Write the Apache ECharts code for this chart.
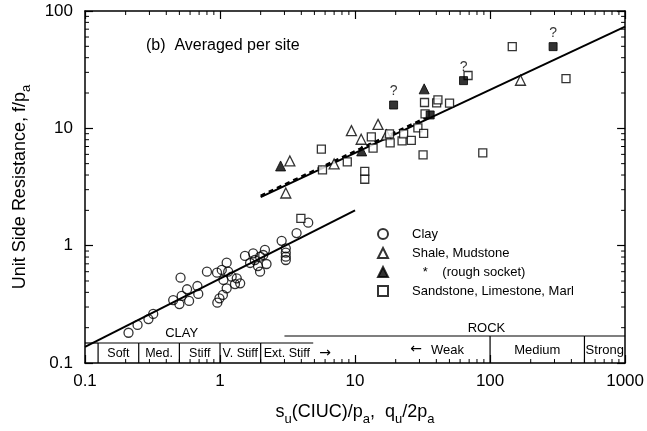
<!DOCTYPE html>
<html><head><meta charset="utf-8">
<script src="https://cdn.jsdelivr.net/npm/echarts@6/dist/echarts.min.js"></script>
<style>html,body{margin:0;padding:0;background:#fff}#c{width:647px;height:431px}</style>
</head><body><div id="c"></div>
<script>
const FONT = '"Liberation Sans", Arial, sans-serif';
const ARROWFONT = '"DejaVu Sans", sans-serif';

// ---- data ----
const xTickLabels = {0.1:'0.1', 1:'1', 10:'10', 100:'100', 1000:'1000'};
const yTickLabels = {0.1:'0.1', 1:'1', 10:'10', 100:'100'};

const clayX = [0.21,0.245,0.295,0.32,0.45,0.50,0.52,0.57,0.59,0.68,0.69,0.51,0.80,0.95,0.955,0.99,1.05,1.03,1.12,1.15,1.06,1.12,1.22,1.29,1.41,1.33,1.53,1.76,1.81,1.98,2.09,2.15,2.21,1.98,2.86,3.07,3.07,3.07,3.07,3.69,4.5,1.67,1.91];
const clayY = [0.181,0.211,0.237,0.262,0.344,0.318,0.373,0.425,0.338,0.453,0.388,0.534,0.60,0.589,0.327,0.356,0.38,0.621,0.716,0.60,0.51,0.433,0.544,0.471,0.478,0.527,0.817,0.861,0.755,0.806,0.833,0.919,0.698,0.60,1.10,0.95,0.871,0.806,0.755,1.28,1.57,0.712,0.671];

const shaleX = [3.29,3.07,7.0,9.4,11.1,14.8,17.1,168];
const shaleY = [5.27,2.81,4.97,9.56,8.07,10.8,8.79,25.7];

const roughX = [2.81,11.2,32.5];
const roughY = [4.78,6.42,21.7];

const sandX = [3.97,5.63,5.74,8.76,13.2,13.6,11.8,11.8,18.2,18.0,22.3,22.9,26.1,29.2,32.2,31.9,32.7,33.0,40.2,41.1,50.1,68.7,88.3,146,365];
const sandY = [1.71,6.64,4.42,5.17,8.45,6.77,4.29,3.68,7.51,8.96,7.81,8.96,7.89,10.1,9.05,5.93,16.6,13.3,16.5,17.5,16.4,28.2,6.17,49.7,26.5];

const queryX = [19.3,63.6,293];
const queryY = [15.8,25.5,49.7];
const filledSqX = [36.0];
const filledSqY = [13.0];

const clayFitX = [0.1,10],  clayFitY = [0.137,2.0];
const rockFitX = [2,1000],  rockFitY = [2.59,73.6];
const rockDashX = [2,35],   rockDashY = [2.66,12.6];

const clayZoneFrom = [0.1,0.125,0.25,0.5,1,2];
const clayZoneTo   = [0.125,0.25,0.5,1,2,4.9];
const clayZoneName = ['','Soft','Med.','Stiff','V. Stiff','Ext. Stiff'];
const rockZoneFrom = [3,100,500];
const rockZoneTo   = [100,500,1000];
const rockZoneName = ['Weak','Medium','Strong'];

const legendText = {Clay:'Clay', Shale:'Shale, Mudstone', Rough:'   *    (rough socket)', Sand:'Sandstone, Limestone, Marl'};

// ---- helpers ----
const zip = (a,b) => a.map((v,i)=>[v,b[i]]);
const minorVals = (lo, hi) => { const r=[]; for(let e=lo;e<hi;e++) for(let m=2;m<=9;m++) r.push(+(m*Math.pow(10,e)).toPrecision(6)); return r; };

const ax = {
  type:'log', logBase:10,
  axisLine:{show:true, lineStyle:{color:'#000', width:1.5}},
  axisTick:{show:true, inside:true, length:8, lineStyle:{color:'#000', width:1.2}},
  splitLine:{show:false}, minorTick:{show:false}
};

const chart = echarts.init(document.getElementById('c'), null, {renderer:'canvas'});
const option = {
  backgroundColor:'#fff',
  animation:false,
  grid:{left:85, right:21, top:11, bottom:68, show:false},
  xAxis:[
    Object.assign({}, ax, {min:0.1, max:1000, position:'bottom',
      axisLabel:{show:true, margin:10, fontSize:17, color:'#000', fontFamily:FONT, formatter:v=>xTickLabels[+(+v).toPrecision(6)] || ''},
      name:'{n|s}{s|u}{n|(CIUC)/p}{s|a}{n|,  q}{s|u}{n|/2p}{s|a}', nameLocation:'middle', nameGap:34,
      nameTextStyle:{color:'#000', fontFamily:FONT, rich:{n:{fontSize:18, fontFamily:FONT, color:'#000', lineHeight:24, verticalAlign:'bottom'}, s:{fontSize:13, fontFamily:FONT, color:'#000', lineHeight:24, verticalAlign:'bottom', padding:[0,0,-5,0]}}}
    }),
    Object.assign({}, ax, {min:0.1, max:1000, position:'top', axisLabel:{show:false}})
  ],
  yAxis:[
    Object.assign({}, ax, {min:0.1, max:100, position:'left',
      axisLabel:{show:true, margin:12, fontSize:17, color:'#000', fontFamily:FONT, formatter:v=>yTickLabels[+(+v).toPrecision(6)] || ''},
      name:'{n|Unit Side Resistance, f/p}{s|a}', nameLocation:'middle', nameGap:56, nameRotate:90,
      nameTextStyle:{color:'#000', fontFamily:FONT, rich:{n:{fontSize:18, fontFamily:FONT, color:'#000', lineHeight:22, verticalAlign:'bottom'}, s:{fontSize:13, fontFamily:FONT, color:'#000', lineHeight:22, verticalAlign:'bottom', padding:[0,0,-4,0]}}}
    }),
    Object.assign({}, ax, {min:0.1, max:100, position:'right', axisLabel:{show:false}})
  ],
  legend:{
    data:['Clay','Shale','Rough','Sand'], orient:'vertical', left:372, top:221,
    itemWidth:10, itemHeight:10, itemGap:3, selectedMode:false,
    formatter:n=>legendText[n],
    textStyle:{fontSize:13, fontFamily:FONT, color:'#000', lineHeight:16, padding:[0,0,0,19]}
  },
  graphic:[
    {type:'text', left:146, top:38, style:{text:'(b)  Averaged per site', font:'16px '+FONT, fill:'#000'}}
  ],
  series:[
    {type:'line', data:zip(clayFitX,clayFitY), symbol:'none', lineStyle:{color:'#000', width:2}, z:3, silent:true},
    {type:'line', data:zip(rockFitX,rockFitY), symbol:'none', lineStyle:{color:'#000', width:2}, z:3, silent:true},
    {type:'line', data:zip(rockDashX,rockDashY), symbol:'none', lineStyle:{color:'#000', width:2.5, type:[5,4]}, z:3, silent:true},
    {name:'Clay', type:'scatter', data:zip(clayX,clayY), symbol:'circle', symbolSize:9,
      itemStyle:{color:'rgba(255,255,255,0)', borderColor:'#000', borderWidth:1.3}, z:4},
    {name:'Shale', type:'scatter', data:zip(shaleX,shaleY), symbol:'triangle', symbolSize:10,
      itemStyle:{color:'#fff', borderColor:'#000', borderWidth:1.3}, z:4},
    {name:'Rough', type:'scatter', data:zip(roughX,roughY), symbol:'triangle', symbolSize:10,
      itemStyle:{color:'#000', borderColor:'#000', borderWidth:1}, z:4},
    {name:'Sand', type:'scatter', data:zip(sandX,sandY), symbol:'rect', symbolSize:8,
      itemStyle:{color:'#fff', borderColor:'#000', borderWidth:1.3}, z:4},
    {name:'Query', type:'scatter', data:zip(queryX,queryY), symbol:'rect', symbolSize:8,
      itemStyle:{color:'#000', borderColor:'#000', borderWidth:1}, z:4,
      label:{show:true, position:'top', distance:2, formatter:'?', fontSize:14, fontFamily:FONT, color:'#000'}},
    {name:'FilledSq', type:'scatter', data:zip(filledSqX,filledSqY), symbol:'rect', symbolSize:8,
      itemStyle:{color:'#000', borderColor:'#000', borderWidth:1}, z:4},
    // minor ticks, x (bottom & top)
    {type:'custom', silent:true, z:5, data:minorVals(-1,3).map(v=>[v,1]),
      renderItem:(p,api)=>{ const x=api.coord([api.value(0),1])[0]; const cs=p.coordSys; const b=cs.y+cs.height, t=cs.y;
        return {type:'group', children:[
          {type:'line', shape:{x1:x,y1:b,x2:x,y2:b-4}, style:{stroke:'#000', lineWidth:1}},
          {type:'line', shape:{x1:x,y1:t,x2:x,y2:t+4}, style:{stroke:'#000', lineWidth:1}}]}; }},
    // minor ticks, y (left & right)
    {type:'custom', silent:true, z:5, data:minorVals(-1,2).map(v=>[1,v]),
      renderItem:(p,api)=>{ const y=api.coord([1,api.value(1)])[1]; const cs=p.coordSys; const l=cs.x, r=cs.x+cs.width;
        return {type:'group', children:[
          {type:'line', shape:{x1:l,y1:y,x2:l+4,y2:y}, style:{stroke:'#000', lineWidth:1}},
          {type:'line', shape:{x1:r,y1:y,x2:r-4,y2:y}, style:{stroke:'#000', lineWidth:1}}]}; }},
    // clay consistency zones
    {type:'custom', silent:true, z:6, clip:false, data:clayZoneFrom.map((v,i)=>[v,clayZoneTo[i],1]), encode:{x:[0,1], y:2},
      renderItem:(p,api)=>{ const i=p.dataIndex; const xa=api.coord([api.value(0),1])[0], xb=api.coord([api.value(1),1])[0];
        const cs=p.coordSys; const b=cs.y+cs.height, t=b-20;
        const ch=[{type:'line', shape:{x1:xa,y1:t,x2:xb,y2:t}, style:{stroke:'#000', lineWidth:1.2}}];
        if(i>0) ch.push({type:'line', shape:{x1:xa,y1:t,x2:xa,y2:b}, style:{stroke:'#000', lineWidth:1.2}});
        const last = i===clayZoneName.length-1;
        ch.push({type:'text', x:last?xa+3:(xa+xb)/2, y:b-9.5, style:{text:clayZoneName[i], font:'12.5px '+FONT, fill:'#000', align:last?'left':'center', verticalAlign:'middle'}});
        if(last) ch.push({type:'text', x:xb+12, y:b-10, style:{text:'\u2192', font:'14px '+ARROWFONT, fill:'#000', align:'center', verticalAlign:'middle'}});
        if(i===0) ch.push({type:'text', x:api.coord([0.52,1])[0], y:t-10, style:{text:'CLAY', font:'13px '+FONT, fill:'#000', align:'center', verticalAlign:'middle'}});
        return {type:'group', children:ch}; }},
    // rock strength zones
    {type:'custom', silent:true, z:6, clip:false, data:rockZoneFrom.map((v,i)=>[v,rockZoneTo[i],1]), encode:{x:[0,1], y:2},
      renderItem:(p,api)=>{ const i=p.dataIndex; const xa=api.coord([api.value(0),1])[0], xb=api.coord([api.value(1),1])[0];
        const cs=p.coordSys; const b=cs.y+cs.height, t=b-27;
        const ch=[{type:'line', shape:{x1:xa,y1:t,x2:xb,y2:t}, style:{stroke:'#000', lineWidth:1.2}}];
        if(i>0) ch.push({type:'line', shape:{x1:xa,y1:t,x2:xa,y2:b}, style:{stroke:'#000', lineWidth:1.2}});
        const first = i===0;
        ch.push({type:'text', x:first?xb-26:(xa+xb)/2, y:b-13, style:{text:rockZoneName[i], font:'13px '+FONT, fill:'#000', align:first?'right':'center', verticalAlign:'middle'}});
        if(first) ch.push({type:'text', x:xb-74, y:b-14, style:{text:'\u2190', font:'14px '+ARROWFONT, fill:'#000', align:'center', verticalAlign:'middle'}});
        if(i===0) ch.push({type:'text', x:api.coord([94,1])[0], y:t-8, style:{text:'ROCK', font:'13px '+FONT, fill:'#000', align:'center', verticalAlign:'middle'}});
        return {type:'group', children:ch}; }}
  ]
};
chart.setOption(option);
</script>
</body></html>
